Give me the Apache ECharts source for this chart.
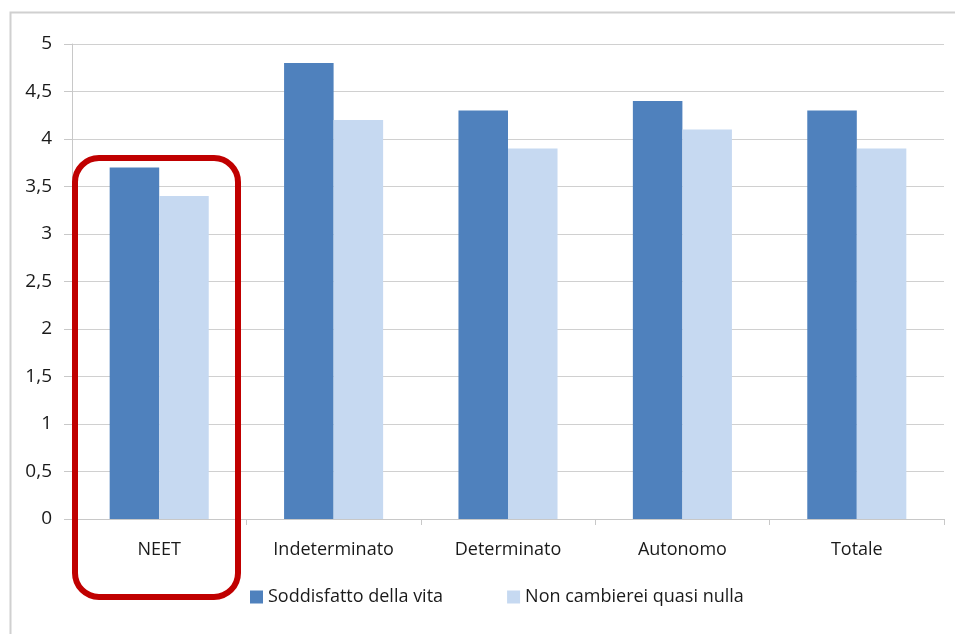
<!DOCTYPE html>
<html><head><meta charset="utf-8">
<script src="https://cdn.jsdelivr.net/npm/echarts@6/dist/echarts.min.js"></script>
<style>html,body{margin:0;padding:0;background:#fff}#c{width:955px;height:634px}</style>
</head><body><div id="c"></div>
<script>
const categories = ['NEET', 'Indeterminato', 'Determinato', 'Autonomo', 'Totale'];
const seriesNames = ['Soddisfatto della vita', 'Non cambierei quasi nulla'];
const soddisfatto = [3.7, 4.8, 4.3, 4.4, 4.3];
const nonCambierei = [3.4, 4.2, 3.9, 4.1, 3.9];

const chart = echarts.init(document.getElementById('c'));
const font = 'Open Sans';
chart.setOption({
  animation: false,
  textStyle: { fontFamily: font },
  grid: { left: 72, right: 11, top: 44, bottom: 115, containLabel: false },
  legend: {
    bottom: 23, left: 245, itemGap: 64, itemWidth: 13, itemHeight: 13, icon: 'rect',
    textStyle: { fontSize: 18, color: '#1a1a1a', fontFamily: font },
    data: seriesNames
  },
  xAxis: {
    type: 'category', data: categories,
    axisLine: { lineStyle: { color: '#c8c8c8', width: 1 } },
    axisTick: { show: true, length: 6, lineStyle: { color: '#c8c8c8' } },
    axisLabel: { fontSize: 18, color: '#1a1a1a', margin: 22, fontFamily: font }
  },
  yAxis: {
    type: 'value', min: 0, max: 5, interval: 0.5,
    axisLine: { show: true, lineStyle: { color: '#c8c8c8' } },
    axisTick: { show: true, length: 8, lineStyle: { color: '#c8c8c8' } },
    splitLine: { lineStyle: { color: '#d0d0d0' } },
    axisLabel: { fontSize: 19, color: '#1a1a1a', margin: 20, fontFamily: font,
      formatter: v => String(v).replace('.', ',') }
  },
  series: [
    { name: seriesNames[0], type: 'bar', data: soddisfatto, barWidth: '28.4%', barGap: '0%',
      itemStyle: { color: '#4f81bd' } },
    { name: seriesNames[1], type: 'bar', data: nonCambierei, barWidth: '28.4%',
      itemStyle: { color: '#c6d9f1' } }
  ],
  graphic: [
    { type: 'polyline', z: -1, silent: true, shape: { points: [[10.5, 640], [10.5, 12.5], [960, 12.5]] },
      style: { stroke: '#d0d0d0', lineWidth: 2, fill: null } },
    { type: 'rect', z: 100, silent: true,
      shape: { x: 75, y: 158, width: 163, height: 439, r: 24 },
      style: { stroke: '#c00000', lineWidth: 6, fill: null } }
  ]
});
</script></body></html>
